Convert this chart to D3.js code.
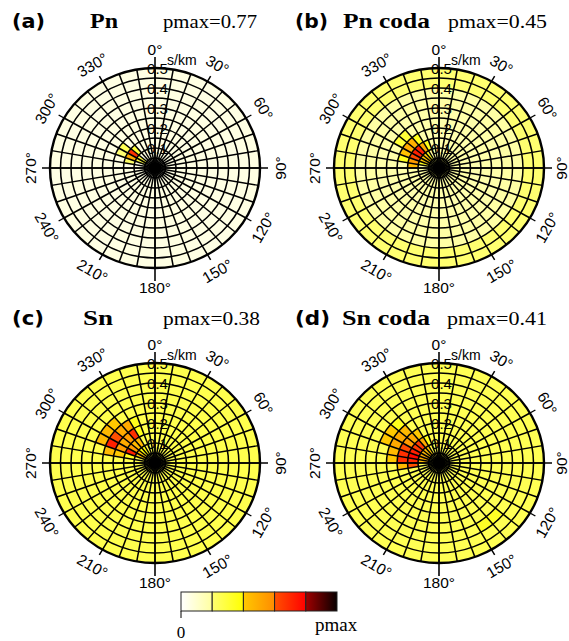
<!DOCTYPE html>
<html>
<head>
<meta charset="utf-8">
<script src="https://cdn.jsdelivr.net/npm/d3@7/dist/d3.min.js"></script>
<style>
  body { margin: 0; background: #fff; }
</style>
</head>
<body>
<div id="showBox"></div>
<script>
// ---- data ----
const panelLabels = ["(a)", "(b)", "(c)", "(d)"];
const phaseNames = ["Pn", "Pn coda", "Sn", "Sn coda"];
const pmaxValues = [0.77, 0.45, 0.38, 0.41];

const azimuthLabels = [0, 30, 60, 90, 120, 150, 180, 210, 240, 270, 300, 330];
const slownessLabels = [0.1, 0.2, 0.3, 0.4, 0.5];
const slownessRings = [0.05, 0.1, 0.15, 0.2, 0.25, 0.3, 0.35, 0.4, 0.45, 0.5];

// background power (fraction of pmax) for each slowness ring, inside -> outside
const backgroundA = [0.06, 0.06, 0.06, 0.06, 0.06, 0.06, 0.06, 0.06, 0.06, 0.06];
const backgroundB = [0.2, 0.19, 0.18, 0.17, 0.18, 0.18, 0.19, 0.19, 0.2, 0.2];
const backgroundC = [0.26, 0.26, 0.26, 0.26, 0.26, 0.26, 0.26, 0.26, 0.26, 0.26];
const backgroundD = [0.25, 0.25, 0.25, 0.25, 0.25, 0.25, 0.25, 0.25, 0.25, 0.25];

// hot cells: [back azimuth bin start (deg), slowness bin start (s/km), fraction of pmax]
const peaksA = [
  [290, 0.1, 0.5], [300, 0.1, 0.68], [310, 0.1, 0.3], [280, 0.1, 0.22],
  [290, 0.05, 0.3], [300, 0.05, 0.3], [300, 0.15, 0.25], [290, 0.15, 0.2]
];
const peaksB = [
  [270, 0.1, 0.45], [280, 0.1, 0.55], [290, 0.1, 0.62], [300, 0.1, 0.72], [310, 0.1, 0.72], [320, 0.1, 0.5], [330, 0.1, 0.35],
  [280, 0.15, 0.35], [290, 0.15, 0.42], [300, 0.15, 0.5], [310, 0.15, 0.48], [320, 0.15, 0.35],
  [280, 0.05, 0.35], [290, 0.05, 0.4], [300, 0.05, 0.4], [310, 0.05, 0.4], [320, 0.05, 0.35],
  [300, 0.2, 0.3], [310, 0.2, 0.3]
];
const peaksC = [
  [280, 0.1, 0.35], [290, 0.1, 0.72], [300, 0.1, 0.55], [310, 0.1, 0.45], [320, 0.1, 0.45],
  [280, 0.15, 0.4], [290, 0.15, 0.55], [300, 0.15, 0.5], [310, 0.15, 0.55], [320, 0.15, 0.68], [330, 0.15, 0.35],
  [280, 0.2, 0.45], [290, 0.2, 0.72], [300, 0.2, 0.6], [310, 0.2, 0.5], [320, 0.2, 0.5], [330, 0.2, 0.35],
  [290, 0.25, 0.45], [300, 0.25, 0.45], [310, 0.25, 0.4],
  [290, 0.05, 0.4], [300, 0.05, 0.4], [310, 0.05, 0.38], [320, 0.05, 0.38]
];
const peaksD = [
  [270, 0.05, 0.45], [280, 0.05, 0.5], [290, 0.05, 0.5], [300, 0.05, 0.45], [310, 0.05, 0.45], [320, 0.05, 0.4],
  [260, 0.1, 0.6], [270, 0.1, 0.7], [280, 0.1, 0.78], [290, 0.1, 0.72], [300, 0.1, 0.65], [310, 0.1, 0.65], [320, 0.1, 0.5], [330, 0.1, 0.35],
  [260, 0.15, 0.45], [270, 0.15, 0.68], [280, 0.15, 0.68], [290, 0.15, 0.62], [300, 0.15, 0.55], [310, 0.15, 0.5], [320, 0.15, 0.4],
  [270, 0.2, 0.4], [280, 0.2, 0.45], [290, 0.2, 0.5], [300, 0.2, 0.5], [310, 0.2, 0.45],
  [290, 0.25, 0.4], [300, 0.25, 0.4], [310, 0.25, 0.35],
  [130, 0.35, 0.33], [140, 0.35, 0.33]
];

const backgrounds = [backgroundA, backgroundB, backgroundC, backgroundD];
const peaks = [peaksA, peaksB, peaksC, peaksD];

// colour table: 5 bands, each a gradient from start to end colour
const bandStart = ["#ffffff", "#ffff70", "#ffc800", "#ff5000", "#a00000"];
const bandEnd = ["#ffffa0", "#ffff00", "#ff8c00", "#ff0000", "#080000"];

// ---- layout ----
const W = 569, H = 641;
const centers = [[155, 168], [439, 168], [155, 463], [439, 463]];
const titleY = [28, 28, 325, 325];
const titleX = [[12, 90, 163], [295, 343, 448], [12, 83, 163], [295, 342, 447]];
const titleW = [[33, 28, 94], [33, 87, 99], [32, 30, 97], [35, 88, 100]];
const sx = 1.05;          // the figure is a little wider than tall
const azStep = 10;
const ringStep = 0.05;

const rScale = d3.scaleLinear().domain([0, 0.5]).range([0, 100]);
const rad = d => d * Math.PI / 180;

function colour(v) {
  const i = Math.min(4, Math.floor(v * 5));
  const t = v * 5 - i;
  return d3.interpolateRgb(bandStart[i], bandEnd[i])(t);
}

const svg = d3.select("#showBox").append("svg")
  .attr("width", W).attr("height", H)
  .style("display", "block");

function drawPanel(k) {
  const [cx, cy] = centers[k];
  const g = svg.append("g").attr("transform", `translate(${cx},${cy}) scale(${sx},1)`);

  const cells = [];
  d3.range(0, 360, azStep).forEach(az => {
    slownessRings.forEach((s, j) => {
      cells.push({az: az, j: j, v: backgrounds[k][j]});
    });
  });
  peaks[k].forEach(([az, s, v]) => {
    const j = Math.round(s / ringStep);
    const c = cells.find(c => c.az === az && c.j === j);
    if (c) c.v = v;
  });

  const arc = d3.arc()
    .innerRadius(d => rScale(d.j * ringStep))
    .outerRadius(d => rScale((d.j + 1) * ringStep))
    .startAngle(d => rad(d.az))
    .endAngle(d => rad(d.az + azStep));

  g.selectAll("path.cell")
    .data(cells)
    .join("path")
    .attr("class", "cell")
    .attr("d", arc)
    .attr("fill", d => colour(d.v))
    .attr("stroke", d => colour(d.v))
    .attr("stroke-width", 0.6);

  // rings
  g.selectAll("circle.ring")
    .data(slownessRings)
    .join("circle")
    .attr("class", "ring")
    .attr("r", d => rScale(d))
    .attr("fill", "none")
    .attr("stroke", "#000")
    .attr("stroke-width", (d, i) => i === slownessRings.length - 1 ? 2.3 : 1.45);

  // spokes
  g.selectAll("line.spoke")
    .data(d3.range(0, 360, azStep))
    .join("line")
    .attr("class", "spoke")
    .attr("x1", 0).attr("y1", 0)
    .attr("x2", d => rScale(0.5) * Math.sin(rad(d)))
    .attr("y2", d => -rScale(0.5) * Math.cos(rad(d)))
    .attr("stroke", "#000")
    .attr("stroke-width", 1.45);

  // solid hub where the spokes crowd together
  g.append("circle").attr("r", 6).attr("fill", "#000");

  // axes through the centre
  g.append("line")
    .attr("x1", -113 / sx).attr("x2", 113 / sx).attr("y1", 0).attr("y2", 0)
    .attr("stroke", "#000").attr("stroke-width", 1.5);
  g.append("line")
    .attr("x1", 0).attr("x2", 0).attr("y1", -111).attr("y2", 113)
    .attr("stroke", "#000").attr("stroke-width", 1.5);

  // 30 degree ticks
  g.selectAll("line.tick")
    .data(azimuthLabels.filter(a => a % 90 !== 0))
    .join("line")
    .attr("class", "tick")
    .attr("x1", d => rScale(0.5) * Math.sin(rad(d)))
    .attr("y1", d => -rScale(0.5) * Math.cos(rad(d)))
    .attr("x2", d => 106 * Math.sin(rad(d)))
    .attr("y2", d => -106 * Math.cos(rad(d)))
    .attr("stroke", "#000").attr("stroke-width", 1.4);

  // azimuth labels
  const Rx = 125, Ry = 119;
  svg.append("g").selectAll("text")
    .data(azimuthLabels)
    .join("text")
    .attr("transform", d => {
      const x = Math.min(W - 8, cx + Rx * Math.sin(rad(d)));
      const y = cy - Ry * Math.cos(rad(d));
      const rot = ((d + 90) % 180) - 90;
      return `translate(${x},${y}) rotate(${rot})`;
    })
    .attr("text-anchor", "middle")
    .attr("dominant-baseline", "central")
    .style("font", "15.5px 'Liberation Sans', Arial, sans-serif")
    .text(d => d + "°");

  // slowness labels
  svg.append("g").selectAll("text")
    .data(slownessLabels)
    .join("text")
    .attr("x", cx + 2.5)
    .attr("y", d => cy - rScale(d))
    .attr("text-anchor", "middle")
    .attr("dominant-baseline", "central")
    .style("font", "15px 'Liberation Sans', Arial, sans-serif")
    .text(d => d.toFixed(1));

  svg.append("text")
    .attr("x", cx + 12).attr("y", cy - 103)
    .style("font", "14px 'Liberation Sans', Arial, sans-serif")
    .text("s/km");

  // title row
  const ty = titleY[k];
  svg.append("text")
    .attr("x", titleX[k][0]).attr("y", ty)
    .attr("textLength", titleW[k][0]).attr("lengthAdjust", "spacingAndGlyphs")
    .style("font", "bold 20px 'DejaVu Sans', sans-serif")
    .text(panelLabels[k]);
  svg.append("text")
    .attr("x", titleX[k][1]).attr("y", ty)
    .attr("textLength", titleW[k][1]).attr("lengthAdjust", "spacingAndGlyphs")
    .style("font", "bold 21px 'Liberation Serif', 'Times New Roman', serif")
    .text(phaseNames[k]);
  svg.append("text")
    .attr("x", titleX[k][2]).attr("y", ty)
    .attr("textLength", titleW[k][2]).attr("lengthAdjust", "spacingAndGlyphs")
    .style("font", "19px 'Liberation Serif', 'Times New Roman', serif")
    .text("pmax=" + pmaxValues[k].toFixed(2));
}

d3.range(4).forEach(drawPanel);

// ---- colour bar ----
const cbX = d3.scaleLinear().domain([0, 1]).range([181, 337]);
const cbY = 592, cbH = 19;
const defs = svg.append("defs");
bandStart.forEach((c, i) => {
  const lg = defs.append("linearGradient").attr("id", "band" + i);
  lg.append("stop").attr("offset", "0%").attr("stop-color", c);
  lg.append("stop").attr("offset", "100%").attr("stop-color", bandEnd[i]);
});
svg.append("g").selectAll("rect")
  .data(d3.range(5))
  .join("rect")
  .attr("x", i => cbX(i / 5))
  .attr("y", cbY)
  .attr("width", i => cbX((i + 1) / 5) - cbX(i / 5))
  .attr("height", cbH)
  .attr("fill", i => `url(#band${i})`)
  .attr("stroke", "#222")
  .attr("stroke-width", 1);
svg.append("line")
  .attr("x1", cbX(0)).attr("x2", cbX(0))
  .attr("y1", cbY + cbH).attr("y2", cbY + cbH + 7)
  .attr("stroke", "#000").attr("stroke-width", 1);
svg.append("text")
  .attr("x", cbX(0)).attr("y", 638)
  .attr("text-anchor", "middle")
  .style("font", "17px 'Liberation Serif', 'Times New Roman', serif")
  .text("0");
svg.append("text")
  .attr("x", 315).attr("y", 631)
  .style("font", "19px 'Liberation Serif', 'Times New Roman', serif")
  .text("pmax");
</script>
</body>
</html>
